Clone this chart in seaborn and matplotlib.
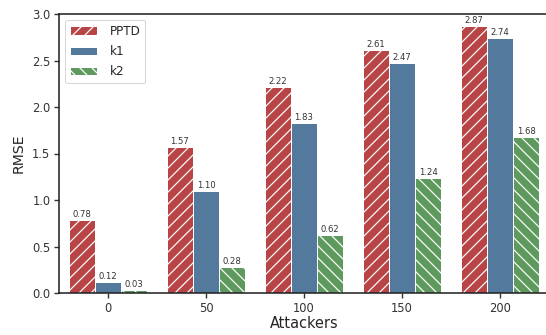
import pandas as pd
import matplotlib
matplotlib.use("Agg")
import matplotlib.pyplot as plt
import seaborn as sns

# --- Data ---
attackers = ["0", "50", "100", "150", "200"]
series_names = ["PPTD", "k1", "k2"]
pptd = [0.78, 1.57, 2.22, 2.61, 2.87]
k1 = [0.12, 1.10, 1.83, 2.47, 2.74]
k2 = [0.03, 0.28, 0.62, 1.24, 1.68]

colors = ["#b84446", "#537a9c", "#5e9a5e"]
hatches = ["//", "", "\\\\"]

df = pd.DataFrame({
    "Attackers": attackers * 3,
    "RMSE": pptd + k1 + k2,
    "method": [s for s in series_names for _ in attackers],
})

sns.set_style("ticks")
plt.rcParams["hatch.linewidth"] = 1.2
plt.rcParams["font.family"] = ["DejaVu Sans"]
plt.rcParams["axes.linewidth"] = 1.6
plt.rcParams["xtick.major.width"] = 1.4
plt.rcParams["ytick.major.width"] = 1.4

# figure drawn at 72 dpi so that the hatch spacing matches the reference
DPI = 72
fig = plt.figure(figsize=(546 / DPI, 335 / DPI), dpi=DPI)
ax = fig.add_axes([59 / 546, 42 / 335, 490 / 546, 279 / 335])

sns.barplot(data=df, x="Attackers", y="RMSE", hue="method", palette=colors,
            saturation=1, edgecolor="white", linewidth=1.0, ax=ax, legend=False)

for cont, h in zip(ax.containers, hatches):
    for bar in cont:
        bar.set_hatch(h)
    ax.bar_label(cont, fmt="%.2f", fontsize=8.5, padding=1, color="#333333")

ax.set_ylim(0, 3.0)
ax.set_yticks([0.0, 0.5, 1.0, 1.5, 2.0, 2.5, 3.0])
ax.set_xlabel("Attackers", fontsize=14.5, labelpad=2)
ax.set_ylabel("RMSE", fontsize=14, labelpad=6)
ax.tick_params(labelsize=11.5, length=5, colors="#333333", labelcolor="#333333")

ax.legend(ax.containers, series_names, loc="upper left", fontsize=12,
          frameon=True, borderaxespad=0.5, handlelength=2.3, labelspacing=0.6,
          handletextpad=1.0)

fig.savefig("out.png", dpi=DPI)
